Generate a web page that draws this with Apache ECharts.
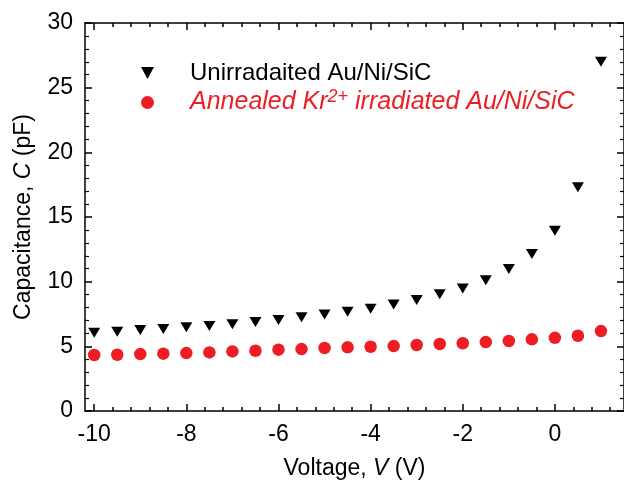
<!DOCTYPE html>
<html>
<head>
<meta charset="utf-8">
<script src="https://cdn.jsdelivr.net/npm/echarts@6/dist/echarts.min.js"></script>
<style>html,body{margin:0;padding:0;background:#fff}#c{width:624px;height:492px}</style>
</head>
<body>
<div id="c"></div>
<script>
// ---- data ----
const voltage = [-10, -9.5, -9, -8.5, -8, -7.5, -7, -6.5, -6, -5.5, -5, -4.5, -4, -3.5, -3, -2.5, -2, -1.5, -1, -0.5, 0, 0.5, 1];
const capUnirradiated = [6.05, 6.13, 6.26, 6.34, 6.47, 6.57, 6.70, 6.88, 7.03, 7.24, 7.47, 7.68, 7.91, 8.24, 8.58, 9.02, 9.48, 10.1, 10.97, 12.13, 13.93, 17.3, 27.0];
const capAnnealed = [4.33, 4.35, 4.40, 4.43, 4.48, 4.53, 4.61, 4.66, 4.74, 4.79, 4.87, 4.92, 4.97, 5.02, 5.10, 5.18, 5.24, 5.33, 5.41, 5.54, 5.66, 5.82, 6.18];
const xMajorTicks = [-10, -8, -6, -4, -2, 0];
const xMinorTicks = [-10, -9.6, -9.2, -8.8, -8.4, -8, -7.6, -7.2, -6.8, -6.4, -6, -5.6, -5.2, -4.8, -4.4, -4, -3.6, -3.2, -2.8, -2.4, -2, -1.6, -1.2, -0.8, -0.4, 0, 0.4, 0.8, 1.2];
const seriesNames = ['Unirradaited Au/Ni/SiC', 'Annealed Kr2+ irradiated Au/Ni/SiC'];

const RED = '#ee1c23';
const FONT = 'Liberation Sans, Arial, sans-serif';
const xMin = -10.2, xMax = 1.5;

function xAx(pos, showLabel, ticks, len, showLine) {
  return {
    type: 'value', position: pos, min: xMin, max: xMax,
    axisLine: { show: showLine, onZero: false, lineStyle: { color: '#000', width: 1.5 } },
    axisTick: { show: true, inside: true, length: len, customValues: ticks, lineStyle: { color: '#000', width: 1.5 } },
    axisLabel: { show: showLabel, customValues: xMajorTicks, fontSize: 23, color: '#000', fontFamily: FONT, margin: 12 },
    splitLine: { show: false }
  };
}
function yAx(pos, showLabel) {
  return {
    type: 'value', position: pos, min: 0, max: 30, interval: 5,
    axisLine: { show: true, onZero: false, lineStyle: { color: '#000', width: 1.5 } },
    axisTick: { show: true, inside: true, length: 7, lineStyle: { color: '#000', width: 1.5 } },
    minorTick: { show: true, splitNumber: 5, length: 4, lineStyle: { color: '#000', width: 1.2 } },
    axisLabel: { show: showLabel, fontSize: 23, color: '#000', fontFamily: FONT, margin: 12 },
    splitLine: { show: false }
  };
}

const xAxes = [
  Object.assign(xAx('bottom', true, xMajorTicks, 7, true), {
    name: 'Voltage, {i|V} (V)', nameLocation: 'middle', nameGap: 46,
    nameTextStyle: { fontSize: 23, color: '#000', fontFamily: FONT, rich: { i: { fontSize: 23, fontStyle: 'italic', fontFamily: FONT, color: '#000' } } }
  }),
  xAx('bottom', false, xMinorTicks, 4, false),
  xAx('top', false, xMajorTicks, 7, true),
  xAx('top', false, xMinorTicks, 4, false)
];
const yAxes = [
  Object.assign(yAx('left', true), {
    name: 'Capacitance, {i|C} (pF)', nameLocation: 'middle', nameGap: 50,
    nameTextStyle: { fontSize: 23, color: '#000', fontFamily: FONT, rich: { i: { fontSize: 23, fontStyle: 'italic', fontFamily: FONT, color: '#000' } } }
  }),
  yAx('right', false)
];

const chart = echarts.init(document.getElementById('c'), null, { renderer: 'canvas' });
chart.setOption({
  animation: false,
  backgroundColor: '#fff',
  grid: { left: 85, right: 0, top: 23, bottom: 81, containLabel: false },
  xAxis: xAxes,
  yAxis: yAxes,
  legend: {
    orient: 'vertical', left: 141, top: 61, itemGap: 3, padding: 0,
    itemWidth: 13, itemHeight: 13,
    textStyle: { fontSize: 24, fontFamily: FONT, color: '#000', padding: [0, 0, 0, 31],
      rich: {
        a: { fontSize: 25, fontFamily: FONT, fontStyle: 'italic', color: RED },
        s: { fontSize: 18, fontFamily: FONT, fontStyle: 'italic', color: RED, verticalAlign: 'bottom', padding: [0, 0, 11, 0] }
      } },
    formatter: function (n) {
      if (n === seriesNames[1]) return '{a|Annealed Kr}{s|2+}{a| irradiated Au/Ni/SiC}';
      return n;
    },
    data: [
      { name: seriesNames[0], icon: 'path://M0,0 L12,0 L6,11 Z', itemStyle: { color: '#000' } },
      { name: seriesNames[1], icon: 'circle', itemStyle: { color: RED } }
    ]
  },
  series: [
    {
      name: seriesNames[0], type: 'scatter', xAxisIndex: 0, yAxisIndex: 0,
      symbol: 'triangle', symbolRotate: 180, symbolSize: [12, 10],
      itemStyle: { color: '#000', opacity: 1 },
      data: voltage.map((v, i) => [v, capUnirradiated[i]])
    },
    {
      name: seriesNames[1], type: 'scatter', xAxisIndex: 0, yAxisIndex: 0,
      symbol: 'circle', symbolSize: 12.5,
      itemStyle: { color: RED, opacity: 1 },
      data: voltage.map((v, i) => [v, capAnnealed[i]])
    }
  ]
});
</script>
</body>
</html>
